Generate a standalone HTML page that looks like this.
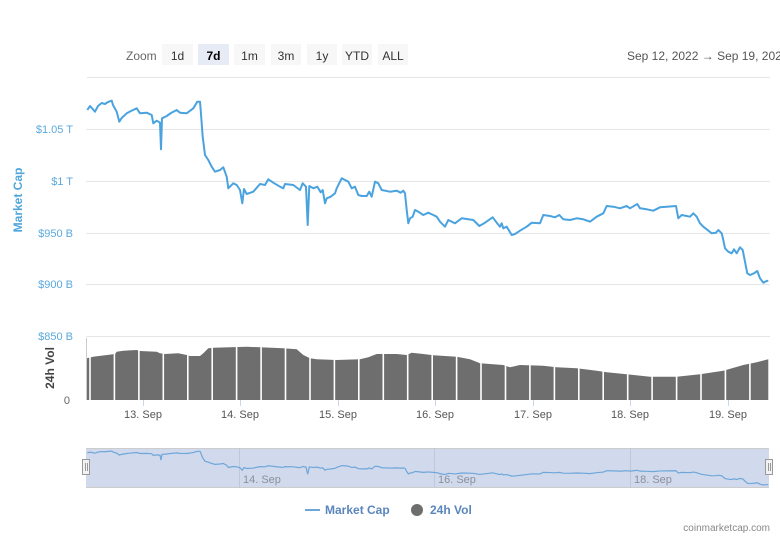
<!DOCTYPE html>
<html><head><meta charset="utf-8"><style>
html,body{margin:0;padding:0;background:#fff;}
body{width:780px;height:536px;overflow:hidden;position:relative;font-family:"Liberation Sans",Arial,sans-serif;}
svg{position:absolute;left:0;top:0;}
</style></head><body>
<svg width="780" height="536" viewBox="0 0 780 536" xmlns="http://www.w3.org/2000/svg" font-family="Liberation Sans, Arial, sans-serif">
<!-- range selector -->
<text x="126" y="60" font-size="12" fill="#666">Zoom</text>
<g font-size="12" fill="#333" text-anchor="middle">
<rect x="162" y="44" width="31" height="21" fill="#f7f7f7"/><text x="177.5" y="60">1d</text>
<rect x="198" y="44" width="31" height="21" fill="#e6ebf5"/><text x="213.5" y="60" font-weight="bold" fill="#000">7d</text>
<rect x="234" y="44" width="31" height="21" fill="#f7f7f7"/><text x="249.5" y="60">1m</text>
<rect x="271" y="44" width="30" height="21" fill="#f7f7f7"/><text x="286" y="60">3m</text>
<rect x="307" y="44" width="30" height="21" fill="#f7f7f7"/><text x="322" y="60">1y</text>
<rect x="342" y="44" width="30" height="21" fill="#f7f7f7"/><text x="357" y="60">YTD</text>
<rect x="378" y="44" width="30" height="21" fill="#f7f7f7"/><text x="393" y="60">ALL</text>
</g>
<text x="627" y="60" font-size="12" fill="#555">Sep 12, 2022  →  Sep 19, 2022</text>
<line x1="87" y1="77.5" x2="770" y2="77.5" stroke="#e6e6e6" stroke-width="1"/>

<!-- gridlines -->
<g stroke="#e6e6e6" stroke-width="1">
<line x1="86" y1="129.5" x2="770" y2="129.5"/>
<line x1="86" y1="181.5" x2="770" y2="181.5"/>
<line x1="86" y1="233.5" x2="770" y2="233.5"/>
<line x1="86" y1="284.5" x2="770" y2="284.5"/>
<line x1="86" y1="336.5" x2="770" y2="336.5"/>
</g>
<!-- y labels -->
<g font-size="11" fill="#5aa9de" text-anchor="end">
<text x="73" y="133">$1.05 T</text>
<text x="73" y="185">$1 T</text>
<text x="73" y="237">$950 B</text>
<text x="73" y="288">$900 B</text>
<text x="73" y="340">$850 B</text>
</g>
<text x="70" y="404" font-size="11" fill="#666" text-anchor="end">0</text>
<text transform="translate(22,200) rotate(-90)" font-size="12" font-weight="bold" fill="#4ea6dc" text-anchor="middle">Market Cap</text>
<text transform="translate(54,368) rotate(-90)" font-size="12" font-weight="bold" fill="#444" text-anchor="middle">24h Vol</text>

<!-- volume -->
<line x1="86.5" y1="338" x2="86.5" y2="400" stroke="#ccc"/>
<polygon fill="#6e6e6e" points="87,358.3 93,356.7 115,354 116.7,351.7 123.3,350.7 136.7,350 140,351 156.7,351.7 160,353.3 165,354 178.3,353.3 186.7,355 190,356 200,356 203.3,353.3 208.3,348.3 213.3,347.7 246.7,346.7 260,347.3 283.3,348.3 296.7,349.3 303.3,355 310,358.3 316.7,359.3 336.7,360 360,359.3 368.3,357.3 376.7,354 396.7,354 406.7,355 411.7,352.7 423.3,354 433.3,355.3 456.7,356.7 470,359.3 480,363.3 503.3,365 510,367.3 520,365 543.3,365.7 556.7,367.3 576.7,368.3 596.7,370.7 606.7,372.3 626.7,374.3 650,376.7 676.7,376.7 700,374.3 723.3,370.7 743.3,365 756.7,362.3 768.3,359.3 768.3,400 87,400"/>
<g stroke="#fff" stroke-width="1.6">
<line x1="90" y1="340" x2="90" y2="400"/><line x1="114.4" y1="340" x2="114.4" y2="400"/><line x1="138.9" y1="340" x2="138.9" y2="400"/><line x1="163.3" y1="340" x2="163.3" y2="400"/><line x1="187.8" y1="340" x2="187.8" y2="400"/><line x1="212.2" y1="340" x2="212.2" y2="400"/><line x1="236.6" y1="340" x2="236.6" y2="400"/><line x1="261.1" y1="340" x2="261.1" y2="400"/><line x1="285.5" y1="340" x2="285.5" y2="400"/><line x1="310" y1="340" x2="310" y2="400"/><line x1="334.4" y1="340" x2="334.4" y2="400"/><line x1="358.8" y1="340" x2="358.8" y2="400"/><line x1="383.3" y1="340" x2="383.3" y2="400"/><line x1="407.7" y1="340" x2="407.7" y2="400"/><line x1="432.2" y1="340" x2="432.2" y2="400"/><line x1="456.6" y1="340" x2="456.6" y2="400"/><line x1="481" y1="340" x2="481" y2="400"/><line x1="505.5" y1="340" x2="505.5" y2="400"/><line x1="529.9" y1="340" x2="529.9" y2="400"/><line x1="554.4" y1="340" x2="554.4" y2="400"/><line x1="578.8" y1="340" x2="578.8" y2="400"/><line x1="603.2" y1="340" x2="603.2" y2="400"/><line x1="627.7" y1="340" x2="627.7" y2="400"/><line x1="652.1" y1="340" x2="652.1" y2="400"/><line x1="676.6" y1="340" x2="676.6" y2="400"/><line x1="701" y1="340" x2="701" y2="400"/><line x1="725.4" y1="340" x2="725.4" y2="400"/><line x1="749.9" y1="340" x2="749.9" y2="400"/>
</g>
<!-- x ticks -->
<g stroke="#ccd6eb" stroke-width="1">
<line x1="143.5" y1="400" x2="143.5" y2="406"/><line x1="240.5" y1="400" x2="240.5" y2="406"/><line x1="338.5" y1="400" x2="338.5" y2="406"/><line x1="435.5" y1="400" x2="435.5" y2="406"/><line x1="533.5" y1="400" x2="533.5" y2="406"/><line x1="630.5" y1="400" x2="630.5" y2="406"/><line x1="728.5" y1="400" x2="728.5" y2="406"/>
</g>
<g font-size="11" fill="#555" text-anchor="middle">
<text x="143" y="418">13. Sep</text><text x="240" y="418">14. Sep</text><text x="338" y="418">15. Sep</text><text x="435" y="418">16. Sep</text><text x="533" y="418">17. Sep</text><text x="630" y="418">18. Sep</text><text x="728" y="418">19. Sep</text>
</g>

<!-- market cap line -->
<path fill="none" stroke="#4aa3df" stroke-width="2" stroke-linejoin="round" d="M87.3,110 L90,106 95,111.7 98,106 101.7,103 105,104 108,102 111.7,100.7 113,105 116.7,111.7 119.3,121.7 121.7,118 126.7,113.3 131,111 136.7,108.3 140,113.3 146.7,112.7 151.7,115 153.3,123.3 156.7,120.7 160,122.7 161,149.3 162,118.3 166.7,116 171,113 176.7,110 180,112.7 186.7,113.3 193.3,108.3 197.3,101.7 200,101.7 200.7,110 202.7,136.7 205,155 208.3,160 211.7,166.7 215,171.7 220,170 223.3,167.3 226.7,176.7 228.3,188.3 233.3,183.3 236.7,185 240,190 242.3,203.3 244,189 246.7,194 253.3,191.7 260,184 265,185 268.3,179.3 273.3,182.7 280,186.7 283.3,188.3 285,184 293.3,185 300,190 302.7,183.3 306,186.7 307.7,225 309.3,186 313.3,188.3 317.3,186.7 320.7,192.3 322.7,190 325,203.3 326.7,198.3 330.7,196.7 335,193.3 336.7,188.3 341.7,178.3 345,180 348.3,181.7 351.7,188.3 355,186.7 358.3,195 361.7,196 366.7,196 369.3,191.7 371.7,196.7 375,181.7 378.3,183.3 381.7,190 390,191.7 396.7,190.7 400.7,192.7 403.3,190.7 405,193.3 406.7,210 408.3,223.3 410,218.3 412.7,216.7 415,210 418.3,211.7 423.3,215 428.3,212.7 433.3,215 436.7,216.7 440,221.7 445,226.7 448.3,220 455,223.3 461.7,218.3 473.3,220 479.3,226 485,222.7 492.7,217.3 496.7,222.7 500,226.7 501.7,223.3 503.3,228.3 506.7,226.7 511.7,235 515,234 520,230.7 526.7,226.7 531.7,222.7 540,223.3 543.3,215 550,216 555,217.3 559.3,215 563.3,219.3 570,220 576.7,218.3 583.3,219.3 590,221.7 596.7,216.7 603.3,213.3 606.7,206 613.3,206.7 620,208.3 626.7,206 630,208.3 637.3,204 640,208.3 646.7,209.3 653.3,210.7 660,207.3 666.7,206.7 676,206 678.3,218.3 681.7,215 686.7,216 690,216.7 693.3,213.3 696.7,216.7 700,223.3 703.3,226.7 706.7,229.3 711.7,233.3 716,232.7 718.3,230 721.7,233.3 723.3,240 725,248.3 728.3,251.7 731.7,253.3 734,249.3 736.7,253.3 740,247.3 742.7,250 745,261.7 747.3,273.3 750,275 754,273.3 757.3,271 760,278.3 763.3,282.7 766.7,281 768.3,280.7"/>

<!-- navigator -->
<rect x="86" y="448" width="683" height="40" fill="#d1daed"/>
<line x1="86" y1="448.5" x2="769" y2="448.5" stroke="#ccc"/>
<line x1="86" y1="487.5" x2="769" y2="487.5" stroke="#ccc"/>
<g stroke="#bfc8da" stroke-width="1">
<line x1="239.5" y1="448" x2="239.5" y2="488"/><line x1="434.5" y1="448" x2="434.5" y2="488"/><line x1="630.5" y1="448" x2="630.5" y2="488"/>
</g>
<g font-size="11" fill="#8a8f99">
<text x="243" y="483">14. Sep</text><text x="438" y="483">16. Sep</text><text x="634" y="483">18. Sep</text>
</g>
<path fill="none" stroke="#6ea6d8" stroke-width="1.2" vector-effect="non-scaling-stroke" transform="translate(0,451) scale(1,0.186) translate(0,-100)" d="M87.3,110 L90,106 95,111.7 98,106 101.7,103 105,104 108,102 111.7,100.7 113,105 116.7,111.7 119.3,121.7 121.7,118 126.7,113.3 131,111 136.7,108.3 140,113.3 146.7,112.7 151.7,115 153.3,123.3 156.7,120.7 160,122.7 161,149.3 162,118.3 166.7,116 171,113 176.7,110 180,112.7 186.7,113.3 193.3,108.3 197.3,101.7 200,101.7 200.7,110 202.7,136.7 205,155 208.3,160 211.7,166.7 215,171.7 220,170 223.3,167.3 226.7,176.7 228.3,188.3 233.3,183.3 236.7,185 240,190 242.3,203.3 244,189 246.7,194 253.3,191.7 260,184 265,185 268.3,179.3 273.3,182.7 280,186.7 283.3,188.3 285,184 293.3,185 300,190 302.7,183.3 306,186.7 307.7,225 309.3,186 313.3,188.3 317.3,186.7 320.7,192.3 322.7,190 325,203.3 326.7,198.3 330.7,196.7 335,193.3 336.7,188.3 341.7,178.3 345,180 348.3,181.7 351.7,188.3 355,186.7 358.3,195 361.7,196 366.7,196 369.3,191.7 371.7,196.7 375,181.7 378.3,183.3 381.7,190 390,191.7 396.7,190.7 400.7,192.7 403.3,190.7 405,193.3 406.7,210 408.3,223.3 410,218.3 412.7,216.7 415,210 418.3,211.7 423.3,215 428.3,212.7 433.3,215 436.7,216.7 440,221.7 445,226.7 448.3,220 455,223.3 461.7,218.3 473.3,220 479.3,226 485,222.7 492.7,217.3 496.7,222.7 500,226.7 501.7,223.3 503.3,228.3 506.7,226.7 511.7,235 515,234 520,230.7 526.7,226.7 531.7,222.7 540,223.3 543.3,215 550,216 555,217.3 559.3,215 563.3,219.3 570,220 576.7,218.3 583.3,219.3 590,221.7 596.7,216.7 603.3,213.3 606.7,206 613.3,206.7 620,208.3 626.7,206 630,208.3 637.3,204 640,208.3 646.7,209.3 653.3,210.7 660,207.3 666.7,206.7 676,206 678.3,218.3 681.7,215 686.7,216 690,216.7 693.3,213.3 696.7,216.7 700,223.3 703.3,226.7 706.7,229.3 711.7,233.3 716,232.7 718.3,230 721.7,233.3 723.3,240 725,248.3 728.3,251.7 731.7,253.3 734,249.3 736.7,253.3 740,247.3 742.7,250 745,261.7 747.3,273.3 750,275 754,273.3 757.3,271 760,278.3 763.3,282.7 766.7,281 768.3,280.7"/>
<g fill="#f2f2f2" stroke="#999" stroke-width="1">
<rect x="82.5" y="459.5" width="7" height="15"/>
<rect x="765.5" y="459.5" width="7" height="15"/>
</g>
<g stroke="#999" stroke-width="1">
<line x1="85.5" y1="463" x2="85.5" y2="471"/><line x1="87.5" y1="463" x2="87.5" y2="471"/>
<line x1="768.5" y1="463" x2="768.5" y2="471"/><line x1="770.5" y1="463" x2="770.5" y2="471"/>
</g>

<!-- legend -->
<line x1="305" y1="510" x2="320" y2="510" stroke="#6ea6d8" stroke-width="2"/>
<text x="325" y="514" font-size="12" font-weight="bold" fill="#5a86bd">Market Cap</text>
<circle cx="417" cy="510" r="6" fill="#6e6e6e"/>
<text x="430" y="514" font-size="12" font-weight="bold" fill="#5a86bd">24h Vol</text>

<text x="770" y="531" font-size="10" fill="#888" text-anchor="end">coinmarketcap.com</text>
</svg>
</body></html>
